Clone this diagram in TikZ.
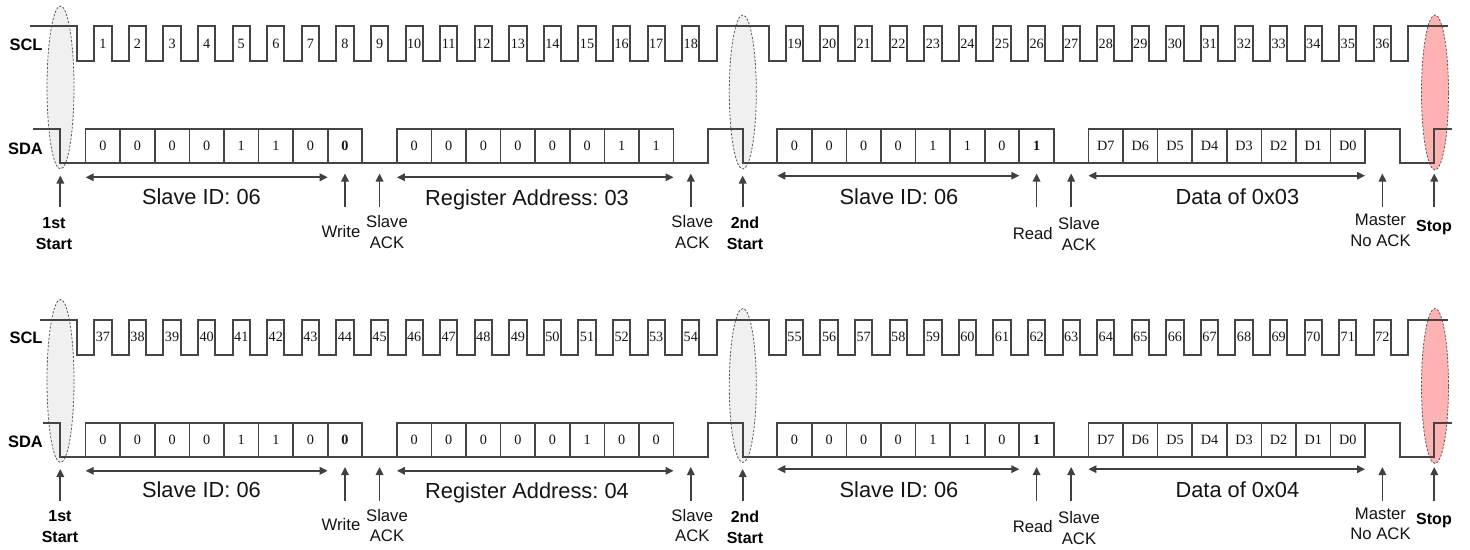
\documentclass[tikz,border=0pt]{standalone}
\usepackage{fontspec}
\setmainfont{Liberation Serif}
\setsansfont{Liberation Sans}
\frenchspacing
\usetikzlibrary{arrows.meta,shapes.geometric}
\definecolor{wavec}{RGB}{68,68,68}
\definecolor{arrc}{RGB}{64,64,64}
\definecolor{ellfill}{RGB}{240,240,240}
\definecolor{stopfill}{RGB}{255,178,178}
\definecolor{ellline}{RGB}{90,90,90}
\definecolor{txtc}{RGB}{20,20,20}
\tikzset{
 wave/.style={draw=wavec,line width=2pt,line join=miter},
 bitbox/.style={draw=wavec,line width=1.7pt,minimum width=34.58pt,minimum height=34pt,inner sep=0pt,font=\fontsize{14.2}{14.2}\selectfont,text=txtc},
 num/.style={inner sep=0pt,font=\fontsize{14.2}{14.2}\selectfont,text=txtc},
 sig/.style={inner sep=0pt,font=\sffamily\bfseries\fontsize{16.5}{16.5}\selectfont},
 biglbl/.style={inner sep=0pt,anchor=base,font=\sffamily\fontsize{21.8}{21.8}\selectfont,text=txtc},
 smalllbl/.style={inner sep=0pt,align=center,font=\sffamily\fontsize{16.7}{20.6}\selectfont,text=txtc},
 boldlbl/.style={inner sep=0pt,align=center,font=\sffamily\bfseries\fontsize{16}{21}\selectfont},
 uparr/.style={draw=arrc,line width=1.7pt,-{Triangle[length=8pt,width=7.5pt]}},
 dblarr/.style={draw=arrc,line width=1.7pt,{Triangle[length=8pt,width=7.5pt]}-{Triangle[length=8pt,width=7.5pt]}},
 startell/.style={ellipse,draw=ellline,dash pattern=on 2.2pt off 1.6pt,line width=0.8pt,fill=ellfill,minimum width=27pt,inner sep=0pt},
 stopell/.style={startell,fill=stopfill},
 declare function={tx(\q)=77+\q*17.29;}
}
% #1 prefix, #2 dy, #3 SCL start x, #4 SDA start x, #5 pulse number offset,
% #6 register bits, #7 register/data value, #8 x of "1st Start" label
\newcommand\drawpanel[8]{%
\begin{scope}[shift={(0,#2)}]
 % start / stop ellipses
 \node[startell,minimum height=163pt] (#1-e1) at (60.5,87.5) {};
 \node[startell,minimum height=154pt] (#1-e2) at (742.8,92) {};
 \node[stopell,minimum height=155pt] (#1-e3) at (1435,92.5) {};
 % SCL
 \draw[wave] (#3,26) -- ({tx(0)},26) -- ({tx(0)},61)
   foreach \k in {1,...,18}{ -- ({tx(2*\k-1)},61) -- ({tx(2*\k-1)},26) -- ({tx(2*\k)},26) -- ({tx(2*\k)},61) }
   -- ({tx(37)},61) -- ({tx(37)},26) -- ({tx(40)},26) -- ({tx(40)},61)
   foreach \k in {19,...,36}{ -- ({tx(2*\k+3)},61) -- ({tx(2*\k+3)},26) -- ({tx(2*\k+4)},26) -- ({tx(2*\k+4)},61) }
   -- ({tx(77)},61) -- ({tx(77)},26) -- (1448,26);
 \foreach \k in {1,...,18}{\pgfmathtruncatemacro\n{\k+#5}\node[num] (#1-n\k) at ({tx(2*\k-0.5)},43.5) {\n};}
 \foreach \k in {19,...,36}{\pgfmathtruncatemacro\n{\k+#5}\node[num] (#1-n\k) at ({tx(2*\k+3.5)},43.5) {\n};}
 % SDA
 \draw[wave] (#4,129.3) -- ({tx(-1)},129.3) -- ({tx(-1)},163.3) -- ({tx(36.5)},163.3) -- ({tx(36.5)},129.3)
   -- ({tx(38.5)},129.3) -- ({tx(38.5)},163.3) -- ({tx(74.5)},163.3);
 \draw[wave] ({tx(74.5)},129.3) -- ({tx(76.5)},129.3) -- ({tx(76.5)},163.3) -- ({tx(78.5)},163.3)
   -- ({tx(78.5)},129.3) -- (1451.7,129.3);
 \foreach \b [count=\i] in {0,0,0,0,1,1,0,\textbf{0}}{\node[bitbox] (#1-a\i) at ({tx(2*\i-0.5)},146.3) {\b};}
 \foreach \b [count=\i] in {#6}{\node[bitbox] (#1-r\i) at ({tx(2*\i+17.5)},146.3) {\b};}
 \foreach \b [count=\i] in {0,0,0,0,1,1,0,\textbf{1}}{\node[bitbox] (#1-c\i) at ({tx(2*\i+39.5)},146.3) {\b};}
 \foreach \b [count=\i] in {D7,D6,D5,D4,D3,D2,D1,D0}{\node[bitbox] (#1-d\i) at ({tx(2*\i+57.5)},146.3) {\b};}
 \node[sig] (#1-scl) at (26,44.5) {SCL};
 \node[sig] (#1-sda) at (25.5,148.5) {SDA};
 % span arrows
 \coordinate (#1-id1l) at ({tx(0.5)},177.3); \coordinate (#1-id1r) at ({tx(14.5)},177.3);
 \draw[dblarr] (#1-id1l) -- (#1-id1r);
 \node[biglbl] (#1-id1) at (201.4,204) {Slave ID: 06};
 \coordinate (#1-regl) at ({tx(18.5)},177.3); \coordinate (#1-regr) at ({tx(34.5)},177.3);
 \draw[dblarr] (#1-regl) -- (#1-regr);
 \node[biglbl] (#1-reg) at (527,205) {Register Address: #7};
 \coordinate (#1-id2l) at ({tx(40.5)},175.7); \coordinate (#1-id2r) at ({tx(54.5)},175.7);
 \draw[dblarr] (#1-id2l) -- (#1-id2r);
 \node[biglbl] (#1-id2) at (899,204) {Slave ID: 06};
 \coordinate (#1-datl) at ({tx(58.5)},175.7); \coordinate (#1-datr) at ({tx(74.5)},175.7);
 \draw[dblarr] (#1-datl) -- (#1-datr);
 \node[biglbl] (#1-dat) at (1237.4,204) {Data of 0x#7};
 % pointer arrows and labels
 \coordinate (#1-s1t) at (60.3,175.5); \coordinate (#1-s1b) at (60.3,207);
 \draw[uparr] (#1-s1b) -- (#1-s1t);
 \node[boldlbl] (#1-s1) at (#8,233.5) {1st\\Start};
 \coordinate (#1-wt) at ({tx(15.5)},173.5); \coordinate (#1-wb) at ({tx(15.5)},207);
 \draw[uparr] (#1-wb) -- (#1-wt);
 \node[smalllbl,anchor=base] (#1-w) at (341,237.3) {Write};
 \coordinate (#1-k1t) at ({tx(17.5)},173.5); \coordinate (#1-k1b) at ({tx(17.5)},207);
 \draw[uparr] (#1-k1b) -- (#1-k1t);
 \node[smalllbl] (#1-k1) at (387,232) {Slave\\ACK};
 \coordinate (#1-k2t) at ({tx(35.5)},173.5); \coordinate (#1-k2b) at ({tx(35.5)},207);
 \draw[uparr] (#1-k2b) -- (#1-k2t);
 \node[smalllbl] (#1-k2) at (692.3,232) {Slave\\ACK};
 \coordinate (#1-s2t) at ({tx(38.5)},175.5); \coordinate (#1-s2b) at ({tx(38.5)},207);
 \draw[uparr] (#1-s2b) -- (#1-s2t);
 \node[boldlbl] (#1-s2) at (745,233.4) {2nd\\Start};
 \coordinate (#1-rdt) at ({tx(55.5)},173.5); \coordinate (#1-rdb) at ({tx(55.5)},207);
 \draw[uparr] (#1-rdb) -- (#1-rdt);
 \node[smalllbl,anchor=base] (#1-rd) at (1032.7,239.3) {Read};
 \coordinate (#1-k3t) at ({tx(57.5)},173.5); \coordinate (#1-k3b) at ({tx(57.5)},207);
 \draw[uparr] (#1-k3b) -- (#1-k3t);
 \node[smalllbl] (#1-k3) at (1079,234.3) {Slave\\ACK};
 \coordinate (#1-nkt) at ({tx(75.5)},173.5); \coordinate (#1-nkb) at ({tx(75.5)},207);
 \draw[uparr] (#1-nkb) -- (#1-nkt);
 \node[smalllbl] (#1-nk) at (1380.5,230.2) {Master\\No ACK};
 \coordinate (#1-spt) at ({tx(78.5)},173.5); \coordinate (#1-spb) at ({tx(78.5)},207);
 \draw[uparr] (#1-spb) -- (#1-spt);
 \node[boldlbl,anchor=base] (#1-sp) at (1434,231) {Stop};
\end{scope}}
\begin{document}
\begin{tikzpicture}[x=1pt,y=-1pt]
 \useasboundingbox[fill=white] (0,0) rectangle (1470,549);
 \drawpanel{a}{0}{30}{33}{0}{0,0,0,0,0,0,1,1}{03}{54}
 \drawpanel{b}{293.5}{40}{43}{36}{0,0,0,0,0,1,0,0}{04}{60}
\end{tikzpicture}
\end{document}
